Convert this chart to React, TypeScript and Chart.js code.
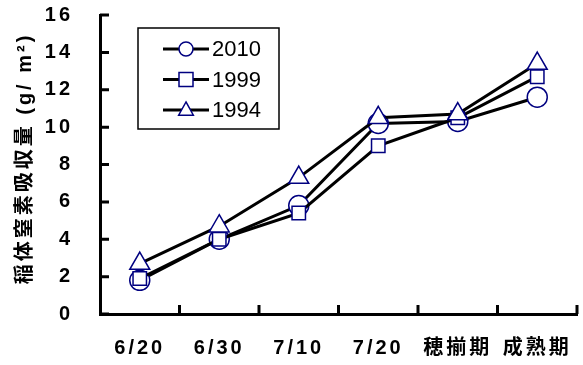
import { useEffect, useRef } from 'react';
import { Chart, registerables } from 'chart.js';

Chart.register(...registerables);

// Growth stages on the x axis
const categories = ['6/20', '6/30', '7/10', '7/20', '穂揃期', '成熟期'];

// Nitrogen uptake of the rice plant (g/m²) per year
const uptake2010 = [1.8, 4.0, 5.8, 10.2, 10.3, 11.6];
const uptake1999 = [1.9, 4.0, 5.4, 9.0, 10.5, 12.7];
const uptake1994 = [2.7, 4.7, 7.3, 10.5, 10.7, 13.4];

const seriesLabels = ['2010', '1999', '1994'];
const yTicks = [0, 2, 4, 6, 8, 10, 12, 14, 16];
const yTitle = '稲体窒素吸収量 (g/ m²)';

const MARKER = '#000080';
const LATIN_CJK = "'Liberation Sans', 'Noto Sans CJK JP', sans-serif";

// wide letter spacing for axis text
const spacingPlugin = {
  id: 'spacing',
  beforeLayout(chart: any) {
    chart.ctx.letterSpacing = '3px';
  },
  beforeDraw(chart: any) {
    chart.ctx.letterSpacing = '3px';
  },
};

// vertical y-axis title, set a little above the plot's middle
const yTitlePlugin = {
  id: 'yTitle',
  afterDraw(chart: any) {
    const ctx: CanvasRenderingContext2D = chart.ctx;
    const area = chart.chartArea;
    ctx.save();
    (ctx as any).letterSpacing = '3px';
    ctx.translate(25, (area.top + area.bottom) / 2 - 6);
    ctx.rotate(-Math.PI / 2);
    ctx.fillStyle = '#000';
    ctx.font = `bold 20px ${LATIN_CJK}`;
    ctx.textAlign = 'center';
    ctx.textBaseline = 'middle';
    ctx.fillText(yTitle, 0, 0);
    ctx.restore();
  },
};

// short tick marks pointing into the plot area
const innerTicksPlugin = {
  id: 'innerTicks',
  afterDraw(chart: any) {
    const { ctx, scales } = chart;
    const xs = scales.x;
    const ys = scales.y;
    const left = chart.chartArea.left;
    const bottom = chart.chartArea.bottom;
    ctx.save();
    ctx.strokeStyle = '#000';
    ctx.lineWidth = 3;
    ctx.beginPath();
    for (const v of yTicks) {
      const py = ys.getPixelForValue(v);
      ctx.moveTo(left, py);
      ctx.lineTo(left + 9, py);
    }
    for (let i = 0; i < categories.length; i++) {
      const px = xs.getPixelForValue(i + 0.5);
      ctx.moveTo(px, bottom);
      ctx.lineTo(px, bottom - 9);
    }
    ctx.stroke();
    ctx.restore();
  },
};

function drawMarker(ctx: CanvasRenderingContext2D, style: string, x: number, y: number, r: number) {
  ctx.beginPath();
  if (style === 'circle') {
    ctx.arc(x, y, r, 0, Math.PI * 2);
  } else if (style === 'rect') {
    ctx.rect(x - r, y - r, 2 * r, 2 * r);
  } else {
    ctx.moveTo(x, y - r * 1.15);
    ctx.lineTo(x + r * 1.05, y + r * 0.75);
    ctx.lineTo(x - r * 1.05, y + r * 0.75);
    ctx.closePath();
  }
  ctx.fillStyle = '#fff';
  ctx.fill();
  ctx.strokeStyle = MARKER;
  ctx.lineWidth = 1.5;
  ctx.stroke();
}

// boxed legend with line-through-marker samples
const boxLegendPlugin = {
  id: 'boxLegend',
  afterDraw(chart: any) {
    const ctx: CanvasRenderingContext2D = chart.ctx;
    ctx.save();
    (ctx as any).letterSpacing = '0px';
    ctx.strokeStyle = '#000';
    ctx.lineWidth = 1.5;
    ctx.strokeRect(138, 28, 141, 101);
    const styles = ['circle', 'rect', 'triangle'];
    chart.data.datasets.forEach((ds: any, i: number) => {
      const y = 49 + i * 30.5;
      ctx.strokeStyle = '#000';
      ctx.lineWidth = 3;
      ctx.beginPath();
      ctx.moveTo(163, y);
      ctx.lineTo(209, y);
      ctx.stroke();
      drawMarker(ctx, styles[i], 186, y, 7);
      ctx.fillStyle = '#000';
      ctx.font = `22px ${LATIN_CJK}`;
      ctx.textAlign = 'left';
      ctx.textBaseline = 'middle';
      ctx.fillText(ds.label, 212, y + 1);
    });
    ctx.restore();
  },
};

export default function App() {
  const canvasRef = useRef<HTMLCanvasElement | null>(null);

  useEffect(() => {
    const canvas = canvasRef.current;
    if (!canvas) return;
    const common = {
      borderColor: '#000',
      borderWidth: 3,
      pointBackgroundColor: '#fff',
      pointBorderColor: MARKER,
      pointBorderWidth: 1.5,
      tension: 0,
      fill: false,
    };
    const chart = new Chart(canvas, {
      type: 'line',
      data: {
        labels: categories,
        datasets: [
          { ...common, label: seriesLabels[0], data: uptake2010, pointStyle: 'circle', pointRadius: 10, order: 3 },
          { ...common, label: seriesLabels[1], data: uptake1999, pointStyle: 'rect', pointRadius: 9.5, order: 2 },
          { ...common, label: seriesLabels[2], data: uptake1994, pointStyle: 'triangle', pointRadius: 11.5, order: 1 },
        ],
      },
      options: {
        responsive: false,
        animation: false,
        devicePixelRatio: 1,
        layout: { autoPadding: false, padding: { top: 15, right: 6, left: 0, bottom: 0 } },
        plugins: {
          legend: { display: false },
          tooltip: { enabled: false },
        },
        scales: {
          x: {
            type: 'category',
            offset: true,
            grid: { display: false },
            border: { display: true, color: '#000', width: 3 },
            ticks: {
              color: '#000',
              padding: 14,
              maxRotation: 0,
              font: { family: LATIN_CJK, size: 20, weight: 'bold' },
            },
            afterFit(scale: any) {
              scale.height = 51;
              scale.paddingLeft = 0;
              scale.paddingRight = 0;
            },
          },
          y: {
            min: 0,
            max: 16,
            grid: { display: false },
            border: { display: true, color: '#000', width: 3 },
            afterBuildTicks(scale: any) {
              scale.ticks = yTicks.map((v) => ({ value: v }));
            },
            ticks: {
              color: '#000',
              padding: 19,
              font: { family: LATIN_CJK, size: 20, weight: 'bold' },
            },
            afterFit(scale: any) {
              scale.width = 100;
              scale.paddingTop = 0;
              scale.paddingBottom = 0;
            },
          },
        },
      },
      plugins: [spacingPlugin, innerTicksPlugin, yTitlePlugin, boxLegendPlugin],
    });
    return () => chart.destroy();
  }, []);

  return (
    <div style={{ position: 'fixed', left: 0, top: 0, width: 583, height: 365, background: '#fff' }}>
      <canvas ref={canvasRef} width={583} height={365} style={{ width: 583, height: 365, display: 'block' }} />
    </div>
  );
}
